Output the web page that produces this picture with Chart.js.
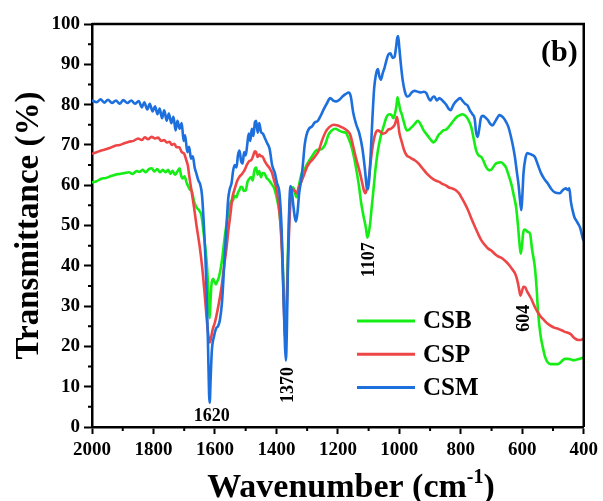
<!DOCTYPE html>
<html>
<head>
<meta charset="utf-8">
<script src="https://cdn.jsdelivr.net/npm/chart.js@4.4.1/dist/chart.umd.min.js"></script>
<style>
  html, body { margin: 0; padding: 0; background: #fff; }
</style>
</head>
<body>
<canvas id="myChart" width="603" height="501"></canvas>
<script>
// FTIR spectra, wavenumber (cm-1) vs transmittance (%)
const csbWn = [2000,1985,1970,1955,1940,1925,1910,1895,1880,1868,1855,1845,1835,1825,1815,1806,1797,1788,1778,1770,1760,1752,1745,1738,1730,1722,1715,1710,1705,1699,1692,1686,1680,1676,1668,1660,1652,1644,1638,1634,1628,1624,1620,1617,1614,1611,1606,1601,1597,1592,1587,1582,1576,1570,1563,1558,1553,1547,1543,1536,1530,1525,1521,1516,1511,1506,1500,1494,1488,1482,1477,1472,1466,1461,1456,1450,1445,1440,1432,1424,1415,1407,1398,1391,1385,1380,1375,1371,1367,1362,1357,1352,1346,1340,1335,1330,1324,1317,1310,1302,1294,1284,1271,1262,1252,1242,1230,1220,1207,1197,1185,1174,1165,1155,1146,1138,1131,1125,1117,1109,1104,1100,1095,1090,1084,1077,1070,1061,1052,1041,1033,1025,1019,1013,1009,1006,1002,997,993,985,976,968,960,950,940,930,921,913,905,897,889,881,873,865,857,848,840,832,824,815,808,802,795,788,782,774,766,758,750,742,733,725,717,710,704,697,690,685,677,669,661,653,645,636,628,620,614,609,605,601,597,592,588,582,575,568,559,553,549,541,533,525,517,508,500,492,484,476,468,460,452,443,436,429,420,410,403,400];
const csbT = [60.7,61.0,61.6,61.8,62.2,62.6,62.8,63.0,63.2,62.8,63.5,63.3,63.8,63.2,64.0,64.2,63.4,64.0,63.2,63.8,63.2,63.8,62.8,63.6,62.6,63.4,64.2,62.4,61.7,62.2,60.6,59.6,58.8,58.7,56.0,54.5,53.8,52.5,49.0,46.3,42.0,37.5,30.0,27.0,32.0,35.5,36.8,36.0,35.4,36.2,37.2,39.0,42.0,46.0,50.0,52.5,54.5,56.2,56.0,57.4,57.0,58.2,58.7,59.6,59.5,58.6,58.7,60.8,61.6,62.0,61.2,63.6,64.4,62.6,63.5,62.0,63.0,63.0,61.8,61.2,60.2,59.2,56.5,53.7,49.0,42.0,30.0,25.0,30.0,45.0,55.0,58.6,59.5,58.2,57.0,58.5,61.0,63.0,63.6,65.0,66.0,67.2,68.6,68.8,69.0,70.0,72.6,73.6,74.0,73.6,73.2,73.0,71.6,69.4,66.4,63.0,59.6,56.0,52.5,49.5,47.0,48.0,50.5,54.5,59.0,64.4,68.5,72.0,74.4,77.0,77.6,77.4,76.6,78.2,80.0,81.8,80.5,78.6,77.8,75.6,73.6,73.8,74.4,75.2,76.0,75.0,73.6,72.8,72.0,71.2,70.6,71.2,72.4,73.0,73.6,73.8,74.4,75.2,76.0,76.8,77.2,77.4,77.6,77.4,77.0,76.0,74.4,71.5,68.6,67.4,67.0,65.8,64.4,63.8,63.7,64.2,65.0,65.4,65.6,65.7,65.2,64.4,62.6,60.4,57.6,54.5,50.0,45.5,43.0,45.0,48.2,49.0,48.8,48.4,48.0,44.0,39.6,34.0,28.9,23.0,19.7,17.2,16.0,15.6,15.6,15.6,15.6,16.0,16.6,16.9,16.9,16.8,16.6,16.6,16.8,17.0,17.2,17.3];

const cspWn = [2000,1985,1970,1955,1940,1925,1910,1895,1880,1865,1850,1838,1828,1818,1806,1795,1785,1775,1765,1757,1748,1740,1732,1725,1716,1708,1700,1694,1688,1683,1676,1668,1660,1650,1642,1634,1627,1621,1617,1613,1608,1600,1590,1580,1570,1563,1556,1550,1543,1536,1528,1521,1512,1504,1495,1488,1482,1476,1470,1466,1461,1456,1450,1446,1438,1430,1422,1414,1407,1401,1394,1387,1380,1375,1371,1367,1362,1357,1352,1346,1340,1334,1327,1318,1310,1300,1292,1282,1270,1262,1252,1240,1228,1214,1200,1188,1178,1168,1160,1150,1140,1130,1122,1115,1110,1105,1098,1093,1085,1077,1070,1061,1053,1045,1036,1028,1021,1015,1011,1008,1004,1000,993,985,976,968,960,950,938,925,912,898,883,870,862,850,840,828,815,806,798,788,776,765,753,743,733,720,710,701,690,680,669,658,646,635,623,615,610,606,602,596,590,584,578,572,565,558,549,540,530,517,505,494,484,472,462,452,442,435,429,418,410,403,400];
const cspT = [67.8,68.2,68.6,68.9,69.3,69.8,70.0,70.4,70.8,71.0,71.6,71.2,71.9,71.4,72.0,71.6,71.8,71.0,71.2,70.6,70.8,70.0,70.3,69.4,69.4,68.2,67.8,66.4,64.8,62.0,58.5,54.5,50.0,45.0,40.0,33.5,27.0,22.5,21.0,22.0,24.0,26.0,29.6,34.0,40.0,44.0,49.0,52.5,57.0,59.0,61.0,62.0,62.8,63.7,65.2,66.0,66.2,67.2,68.4,68.2,67.0,67.6,67.2,67.2,66.0,65.0,64.2,63.0,61.0,59.5,56.0,50.5,40.0,28.0,22.0,28.0,42.0,52.0,57.5,59.0,58.6,58.0,59.5,61.0,62.6,64.6,65.6,66.4,67.6,68.6,71.0,73.2,74.4,75.0,74.8,74.4,74.0,73.4,72.6,69.6,66.4,63.6,61.0,58.6,58.0,59.5,62.5,66.0,70.5,73.0,73.6,73.2,72.8,73.0,73.8,74.0,74.4,75.0,76.0,77.0,75.4,73.0,71.0,68.8,67.4,67.0,66.6,66.2,65.4,64.2,63.0,62.0,61.2,60.8,60.4,60.0,59.5,59.2,58.7,58.0,57.0,55.6,53.7,51.6,49.5,47.8,46.3,45.0,44.2,43.8,43.0,42.4,42.0,41.4,40.5,39.4,38.0,36.0,34.0,32.6,33.4,34.8,34.6,33.6,32.8,32.0,30.8,29.6,28.4,27.4,26.6,25.6,25.0,24.6,24.4,24.0,23.6,23.4,23.0,22.4,22.0,21.6,21.6,21.8,21.9];

const csmWn = [2000,1985,1972,1960,1948,1935,1922,1910,1898,1885,1872,1860,1848,1838,1830,1820,1812,1803,1795,1787,1780,1772,1765,1757,1750,1742,1735,1728,1722,1715,1708,1702,1697,1690,1684,1678,1672,1666,1660,1654,1648,1642,1636,1629,1623,1619,1617,1614,1610,1603,1596,1590,1584,1577,1570,1563,1557,1552,1546,1541,1536,1530,1525,1520,1515,1510,1505,1500,1495,1490,1485,1480,1475,1470,1466,1461,1456,1450,1444,1437,1430,1422,1414,1405,1398,1390,1383,1377,1372,1369,1366,1362,1358,1354,1350,1345,1340,1336,1331,1326,1320,1314,1308,1302,1294,1284,1276,1265,1255,1245,1235,1225,1215,1205,1195,1185,1175,1164,1158,1150,1140,1130,1120,1112,1106,1102,1098,1093,1088,1082,1076,1070,1065,1060,1054,1048,1042,1036,1029,1022,1016,1011,1007,1004,1000,995,989,982,975,968,960,950,940,930,920,912,905,899,892,886,878,870,862,855,848,840,833,825,818,810,802,795,786,778,770,762,755,750,745,740,735,728,720,712,704,697,690,682,675,668,660,652,645,638,630,624,618,612,607,603,600,596,590,584,578,570,559,549,539,528,517,505,494,478,468,458,452,447,442,437,430,424,418,412,407,402,400];
const csmT = [81.0,80.6,81.3,80.5,81.2,80.4,81.0,80.2,81.1,80.4,81.0,80.2,80.9,79.3,80.6,78.8,80.2,78.3,79.6,77.6,79.0,76.6,78.6,76.0,77.8,75.4,77.0,73.6,76.0,74.0,75.4,71.0,72.4,68.2,69.5,66.6,67.2,64.4,62.8,61.2,60.2,57.5,50.0,38.0,22.0,8.0,6.0,12.0,19.0,22.5,24.5,25.0,26.5,31.0,40.0,49.0,56.5,59.0,60.5,63.5,65.0,64.4,67.5,68.6,66.0,65.4,68.2,67.4,70.0,72.8,71.0,74.0,72.2,75.6,76.0,73.0,75.4,73.2,72.8,71.6,70.4,69.0,65.0,63.0,60.5,58.0,49.0,33.0,20.0,16.5,24.0,42.0,55.0,59.8,58.5,55.0,52.0,51.0,53.5,58.0,61.0,65.0,70.0,72.5,74.0,74.6,75.5,76.0,77.4,79.0,80.4,81.6,81.0,80.8,81.2,82.0,82.6,83.0,82.0,78.0,75.0,72.8,69.0,64.0,59.5,59.0,61.5,68.0,76.0,84.0,87.5,88.8,87.0,86.2,87.8,89.2,91.0,92.4,92.7,91.6,91.8,94.0,96.5,97.0,94.0,90.0,86.0,83.2,82.0,82.2,83.0,83.4,83.2,83.0,83.2,82.8,81.6,81.0,81.8,82.0,81.0,81.6,81.2,80.6,80.0,79.0,78.6,79.8,80.6,81.2,81.6,81.0,80.2,79.8,78.5,77.6,76.5,73.0,72.0,74.0,76.6,77.2,76.8,76.2,75.2,74.8,75.6,76.6,77.4,77.2,76.6,75.6,74.4,72.4,69.6,67.0,63.5,60.0,56.0,53.8,57.0,63.0,66.6,68.0,67.8,67.6,67.0,65.0,63.0,61.5,60.4,59.0,58.2,58.0,58.8,59.2,58.8,59.2,56.0,54.0,52.0,51.2,50.4,49.5,48.0,46.5,46.3];

const seriesNames = ['CSB', 'CSP', 'CSM'];
const seriesColors = ['#14ee14', '#ee4646', '#1c6fdc'];
const xTicks = [2000, 1800, 1600, 1400, 1200, 1000, 800, 600, 400];
const yTicks = [0, 10, 20, 30, 40, 50, 60, 70, 80, 90, 100];
// peak labels: [wavenumber, transmittance where the label sits, rotated]
const peakLabels = [[1620, 2.7, false], [1370, 10.4, true], [1107, 41.5, true], [604, 27, true]];

const serif = "'Liberation Serif', 'Times New Roman', serif";

function pts(wn, t) {
    return wn.map((w, i) => ({x: w, y: t[i]}));
}

const extras = {
    id: 'extras',
    afterDraw(chart) {
        const ctx = chart.ctx;
        const a = chart.chartArea;
        const xs = chart.scales.x, ys = chart.scales.y;
        ctx.save();
        ctx.strokeStyle = '#000';
        // top and right frame
        ctx.lineWidth = 2.5;
        ctx.beginPath();
        ctx.moveTo(a.left, a.top);
        ctx.lineTo(a.right, a.top);
        ctx.lineTo(a.right, a.bottom);
        ctx.stroke();
        // minor ticks
        ctx.lineWidth = 2;
        ctx.beginPath();
        for (let w = 500; w < 2000; w += 200) {
            const x = xs.getPixelForValue(w);
            ctx.moveTo(x, a.bottom);
            ctx.lineTo(x, a.bottom + 4);
        }
        for (let v = 5; v < 100; v += 10) {
            const y = ys.getPixelForValue(v);
            ctx.moveTo(a.left, y);
            ctx.lineTo(a.left - 4, y);
        }
        ctx.stroke();

        ctx.fillStyle = '#000';
        // peak labels
        ctx.font = 'bold 18px ' + serif;
        ctx.textAlign = 'center';
        ctx.textBaseline = 'middle';
        peakLabels.forEach(p => {
            const x = xs.getPixelForValue(p[0]) + 3;
            const y = ys.getPixelForValue(p[1]);
            ctx.save();
            ctx.translate(x, y);
            if (p[2]) ctx.rotate(-Math.PI / 2);
            ctx.fillText(String(p[0]), 0, 0);
            ctx.restore();
        });

        // panel letter
        ctx.font = 'bold 30px ' + serif;
        ctx.textAlign = 'right';
        ctx.fillText('(b)', a.right - 6, a.top + 29);

        // legend
        ctx.font = 'bold 25px ' + serif;
        ctx.textAlign = 'left';
        chart.data.datasets.forEach((ds, i) => {
            const y = a.top + 297 + i * 33.3;
            ctx.strokeStyle = ds.borderColor;
            ctx.lineWidth = 3;
            ctx.beginPath();
            ctx.moveTo(a.left + 265, y);
            ctx.lineTo(a.left + 323, y);
            ctx.stroke();
            ctx.fillText(ds.label, a.left + 331, y + 1);
        });

        // x axis title with superscript
        ctx.textBaseline = 'alphabetic';
        const main = 'Wavenumber (cm';
        const sup = '-1';
        const tail = ')';
        ctx.font = 'bold 34px ' + serif;
        const w1 = ctx.measureText(main).width;
        const w3 = ctx.measureText(tail).width;
        ctx.font = 'bold 20px ' + serif;
        const w2 = ctx.measureText(sup).width;
        const cx = a.left + 259;
        let x = cx - (w1 + w2 + w3) / 2;
        const base = 497;
        ctx.font = 'bold 34px ' + serif;
        ctx.fillText(main, x, base);
        x += w1;
        ctx.font = 'bold 20px ' + serif;
        ctx.fillText(sup, x, base - 14);
        x += w2;
        ctx.font = 'bold 34px ' + serif;
        ctx.fillText(tail, x, base);
        ctx.restore();
    }
};

new Chart(document.getElementById('myChart'), {
    type: 'line',
    data: {
        datasets: [{
            label: seriesNames[0],
            data: pts(csbWn, csbT),
            borderColor: seriesColors[0],
            order: 2
        }, {
            label: seriesNames[1],
            data: pts(cspWn, cspT),
            borderColor: seriesColors[1],
            order: 1
        }, {
            label: seriesNames[2],
            data: pts(csmWn, csmT),
            borderColor: seriesColors[2],
            order: 0
        }]
    },
    options: {
        responsive: false,
        animation: false,
        elements: {
            point: { radius: 0 },
            line: { borderWidth: 2.6, tension: 0.3, cubicInterpolationMode: 'monotone' }
        },
        layout: {
            autoPadding: false,
            padding: { top: 24, right: 17, left: 0, bottom: 0 }
        },
        plugins: {
            legend: { display: false },
            tooltip: { enabled: false }
        },
        scales: {
            x: {
                type: 'linear',
                reverse: true,
                min: 400,
                max: 2000,
                afterFit: s => { s.height = 74; },
                afterBuildTicks: s => { s.ticks = xTicks.map(v => ({value: v})); },
                ticks: {
                    color: '#000',
                    font: { family: serif, size: 19, weight: 'bold' },
                    padding: 5,
                    maxRotation: 0,
                    autoSkip: false,
                    callback: value => String(value)
                },
                grid: {
                    drawOnChartArea: false,
                    drawTicks: true,
                    tickLength: 7,
                    tickWidth: 2,
                    tickColor: '#000'
                },
                border: { display: true, color: '#000', width: 2.5 },
                title: { display: false }
            },
            y: {
                min: 0,
                max: 100,
                afterFit: s => { s.width = 92; },
                afterBuildTicks: s => { s.ticks = yTicks.map(v => ({value: v})); },
                ticks: {
                    color: '#000',
                    font: { family: serif, size: 19, weight: 'bold' },
                    padding: 4,
                    callback: value => String(value)
                },
                grid: {
                    drawOnChartArea: false,
                    drawTicks: true,
                    tickLength: 8,
                    tickWidth: 2,
                    tickColor: '#000'
                },
                border: { display: true, color: '#000', width: 2.5 },
                title: {
                    display: true,
                    text: 'Transmittance (%)',
                    color: '#000',
                    font: { family: serif, size: 33, weight: 'bold' },
                    padding: { top: 10, bottom: 0 }
                }
            }
        }
    },
    plugins: [extras]
});
</script>
</body>
</html>
